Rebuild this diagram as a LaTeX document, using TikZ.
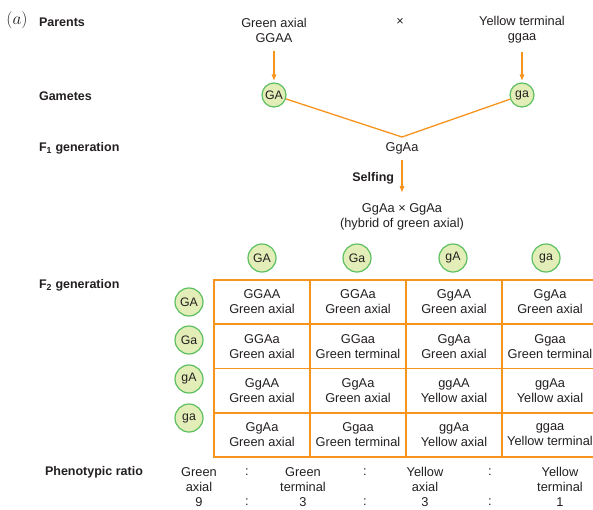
\documentclass[tikz,border=0pt]{standalone}
\usepackage{fontspec}
\setmainfont{Liberation Sans}
\usetikzlibrary{arrows.meta, positioning}
\definecolor{crossorange}{HTML}{F7941D}
\definecolor{gametefill}{HTML}{E2EDB7}
\definecolor{gametedraw}{HTML}{5CBF60}
\definecolor{crosstext}{HTML}{231F20}

\begin{document}
\begin{tikzpicture}[
  x=1pt, y=-1pt,
  every node/.style={font=\fontsize{12.8}{15}\selectfont, text=crosstext},
  rowlabel/.style={anchor=west, font=\fontsize{12.5}{14}\selectfont\bfseries},
  gamete/.style={circle, draw=gametedraw, fill=gametefill, line width=1.2pt,
              minimum size=#1, inner sep=0pt, font=\fontsize{12.3}{14}\selectfont},
  cell/.style={rectangle, draw=crossorange, line width=1.6pt, minimum width=96pt,
              minimum height=44.3pt, align=center, inner sep=0pt},
  link/.style={crossorange, line width=1.3pt},
  tip/.style={-{Triangle[length=6pt, width=4.5pt]}},
]
  \useasboundingbox (0,0) rectangle (593,509);
  \clip (0,0) rectangle (593,509);

  % row labels
  \node at (17,20) {\fontsize{16}{18}\selectfont$(a)$};
  \node[rowlabel] (parents) at (35.5,22)  {Parents};
  \node[rowlabel] (gametes) at (35.5,96)  {Gametes};
  \node[rowlabel] (fone)    at (35.5,148) {F\textsubscript{1} generation};
  \node[rowlabel] (ftwo)    at (35.5,285) {F\textsubscript{2} generation};
  \node[rowlabel] (ratio)   at (41.5,472) {Phenotypic ratio};

  % parents and F1
  \node[align=center] (pgreen)  at (274,30) {Green axial\\GGAA};
  \node               (cross)   at (400,22) {×};
  \node[align=center] (pyellow) at (522,30) {Yellow terminal\\ggaa};
  \node[gamete=24pt] (gGA) at (274,95) {GA};
  \node[gamete=24pt] (gga) at (522,95) {ga};
  \coordinate (join) at (402,137);
  \node (hybone) at (402,148) {GgAa};
  \node[align=center] (hybself) at (402,217) {GgAa × GgAa\\(hybrid of green axial)};

  \draw[link, tip, shorten <=5pt, shorten >=2pt] (pgreen) -- (gGA);
  \draw[link, tip, shorten <=5pt, shorten >=2pt] (pyellow) -- (gga);
  \draw[link] (gGA) -- (join) -- (gga);
  \draw[link, tip, shorten <=3pt, shorten >=8pt]
    (hybone) -- node[left=4pt, font=\fontsize{12.5}{14}\selectfont\bfseries]{Selfing} (hybself);

  % F2 gametes
  \node[gamete=28pt] (tGA) at (262,258) {GA};
  \node[gamete=28pt] (tGa) at (357,258) {Ga};
  \node[gamete=28pt] (tgA) at (453,258) {gA};
  \node[gamete=28pt] (tga) at (546,258) {ga};
  \node[gamete=28pt] (lGA) at (189,302) {GA};
  \node[gamete=28pt] (lGa) at (189,340) {Ga};
  \node[gamete=28pt] (lgA) at (189,379) {gA};
  \node[gamete=28pt] (lga) at (189,418) {ga};

  % Punnett square
  \node[cell] (c11) at (262,302)   {GGAA\\Green axial};
  \node[cell] (c12) at (358,302)   {GGAa\\Green axial};
  \node[cell] (c13) at (454,302)   {GgAA\\Green axial};
  \node[cell] (c14) at (550,302)   {GgAa\\Green axial};
  \node[cell] (c21) at (262,346.3) {GGAa\\Green axial};
  \node[cell] (c22) at (358,346.3) {GGaa\\Green terminal};
  \node[cell] (c23) at (454,346.3) {GgAa\\Green axial};
  \node[cell] (c24) at (550,346.3) {Ggaa\\Green terminal};
  \node[cell] (c31) at (262,390.6) {GgAA\\Green axial};
  \node[cell] (c32) at (358,390.6) {GgAa\\Green axial};
  \node[cell] (c33) at (454,390.6) {ggAA\\Yellow axial};
  \node[cell] (c34) at (550,390.6) {ggAa\\Yellow axial};
  \node[cell] (c41) at (262,434.9) {GgAa\\Green axial};
  \node[cell] (c42) at (358,434.9) {Ggaa\\Green terminal};
  \node[cell] (c43) at (454,434.9) {ggAa\\Yellow axial};
  \node[cell] (c44) at (550,434.9) {ggaa\\Yellow terminal};

  % ratio
  \node[align=center] (rga) at (199,487) {Green\\axial\\9};
  \node[align=center] (rgt) at (303,487) {Green\\terminal\\3};
  \node[align=center] (rya) at (425,487) {Yellow\\axial\\3};
  \node[align=center] (ryt) at (560,487) {Yellow\\terminal\\1};
  \node (sa) at (247,472) {:};
  \node (sb) at (365,472) {:};
  \node (sc) at (490,472) {:};
  \node (na) at (247,502) {:};
  \node (nb) at (365,502) {:};
  \node (nc) at (490,502) {:};
\end{tikzpicture}
\end{document}
